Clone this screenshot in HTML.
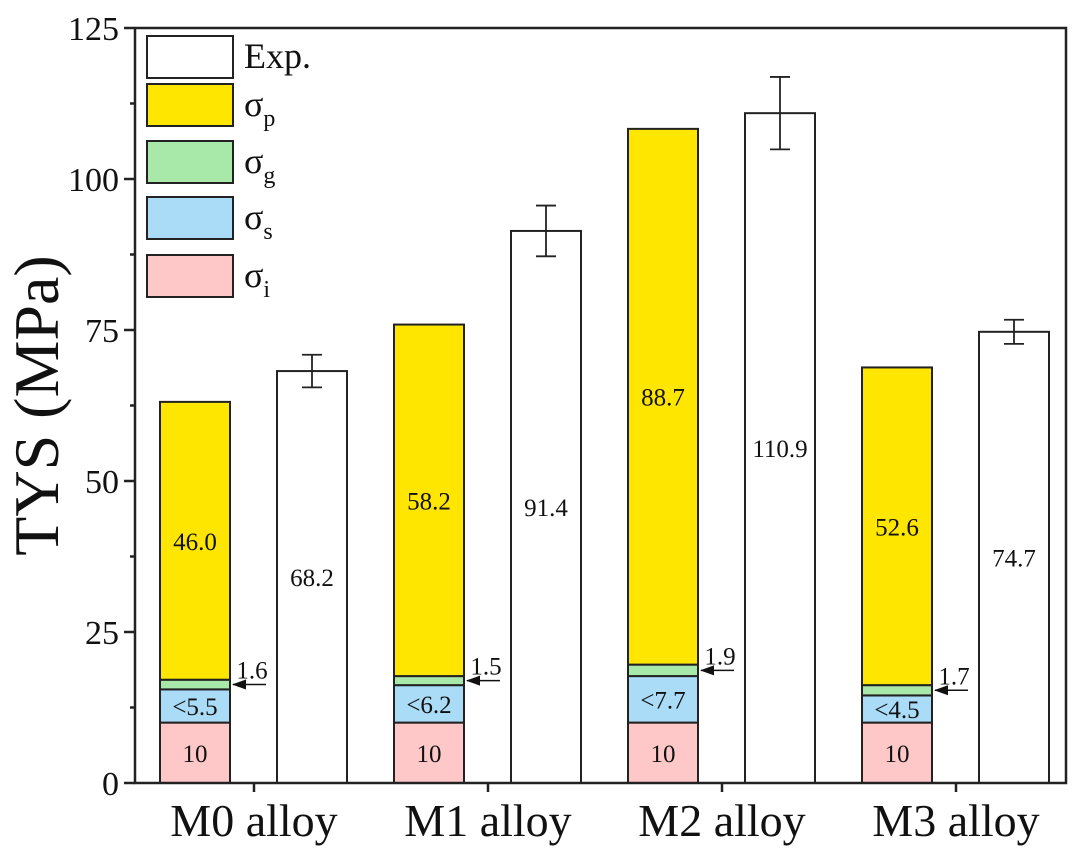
<!DOCTYPE html>
<html><head><meta charset="utf-8"><style>
body{margin:0;background:#fff;}
svg{display:block;font-family:"Liberation Serif",serif;}
</style></head><body>
<svg id="chart" width="1080" height="851" viewBox="0 0 1080 851">
</svg>
<script>
const categories=["M0 alloy","M1 alloy","M2 alloy","M3 alloy"];
const sigmaI=[10,10,10,10];
const sigmaS=[5.5,6.2,7.7,4.5];
const sigmaG=[1.6,1.5,1.9,1.7];
const sigmaP=[46.0,58.2,88.7,52.6];
const expVals=[68.2,91.4,110.9,74.7];
const expErr=[2.7,4.2,6.0,2.0];
const sLabels=["<5.5","<6.2","<7.7","<4.5"];
const gLabels=["1.6","1.5","1.9","1.7"];
const pLabels=["46.0","58.2","88.7","52.6"];
const expLabels=["68.2","91.4","110.9","74.7"];
const yTicks=[0,25,50,75,100,125];

const svg=document.getElementById('chart');
const NS="http://www.w3.org/2000/svg";
const L=135,R=1066,T=28,B=783,YMAX=125;
const y=v=>B-(v/YMAX)*(B-T);
const groupX=i=>160+i*234;
function el(tag,attrs,parent){const e=document.createElementNS(NS,tag);for(const k in attrs)e.setAttribute(k,attrs[k]);(parent||svg).appendChild(e);return e;}
function txt(x,yy,s,size,anchor,name){const t=el('text',{x:x,y:yy,'font-size':size,'text-anchor':anchor||'middle',fill:'#111'});t.textContent=s;return t;}

const colors={i:'#ffc8c8',s:'#aadcf8',g:'#a8e8a8',p:'#ffe600'};
for(let i=0;i<categories.length;i++){
  const x0=groupX(i),w=70;
  const segs=[['i',sigmaI[i]],['s',sigmaS[i]],['g',sigmaG[i]],['p',sigmaP[i]]];
  let base=0;
  segs.forEach(([k,v])=>{
    const r=el('rect',{x:x0,y:y(base+v),width:w,height:y(base)-y(base+v),fill:colors[k],stroke:'#222','stroke-width':2});
    
    
    base+=v;
  });
  txt(x0+35,y(5)+9,"10",25,'middle','label-i-m'+i);
  txt(x0+35,y(10+sigmaS[i]/2)+9,sLabels[i],25,'middle','label-s-m'+i);
  const top=10+sigmaS[i]+sigmaG[i];
  txt(x0+35,y(top+sigmaP[i]/2)+9,pLabels[i],25,'middle','label-p-m'+i);
  const gy=y(10+sigmaS[i]+sigmaG[i]/2);
  const ln=el('line',{x1:x0+w+3,y1:gy,x2:x0+w+36,y2:gy,stroke:'#111','stroke-width':1.5});
  
  const ah=el('polygon',{points:`${x0+w+2},${gy} ${x0+w+16},${gy-5} ${x0+w+16},${gy+5}`,fill:'#111'});
  
  txt(x0+w+22,gy-6,gLabels[i],25,'middle','label-g-m'+i);
  const ex=x0+117;
  const eb=el('rect',{x:ex,y:y(expVals[i]),width:w,height:B-y(expVals[i]),fill:'#fff',stroke:'#222','stroke-width':2});
  
  txt(ex+35,y(expVals[i]/2)+9,expLabels[i],25,'middle','label-exp-m'+i);
  const cx=ex+35,hi=y(expVals[i]+expErr[i]),lo=y(expVals[i]-expErr[i]);
  const eg=el('path',{d:`M${cx},${hi}V${lo}M${cx-10},${hi}H${cx+10}M${cx-10},${lo}H${cx+10}`,stroke:'#222','stroke-width':1.8,fill:'none'});
  
  txt(x0+94,836,categories[i],46,'middle','x-label-m'+i);
}
const fr=el('rect',{x:L,y:T,width:R-L,height:B-T,fill:'none',stroke:'#222','stroke-width':2.5});

yTicks.forEach(v=>{
  const tk=el('line',{x1:L-11,x2:L,y1:y(v),y2:y(v),stroke:'#222','stroke-width':2.5});
  
  txt(L-16,y(v)+12,String(v),34,'end','y-tick-label');
  if(v<125){const m=el('line',{x1:L-5,x2:L,y1:y(v+12.5),y2:y(v+12.5),stroke:'#222','stroke-width':2.5});
  }
});
for(let i=0;i<4;i++){const tx=groupX(i)+94;const t=el('line',{x1:tx,x2:tx,y1:B,y2:B+9,stroke:'#222','stroke-width':2.5});
}
const yt=el('text',{x:0,y:0,'font-size':64,'text-anchor':'middle',fill:'#111',transform:`translate(58,${(T+B)/2}) rotate(-90)`});
yt.textContent="TYS (MPa)";

const leg=[['#fff','Exp.',''],[colors.p,'σ','p'],[colors.g,'σ','g'],[colors.s,'σ','s'],[colors.i,'σ','i']];
const legY=[36,84,141,197,255];
leg.forEach((e,k)=>{
  const r=el('rect',{x:147,y:legY[k],width:86,height:42,fill:e[0],stroke:'#222','stroke-width':2});
  
  const t=el('text',{x:244,y:legY[k]+32,'font-size':36,fill:'#111'});
  t.textContent=e[1];
  if(e[2]){const s=el('tspan',{'font-size':24,dy:10},t);s.textContent=e[2];}
  
});
</script>
</body></html>
